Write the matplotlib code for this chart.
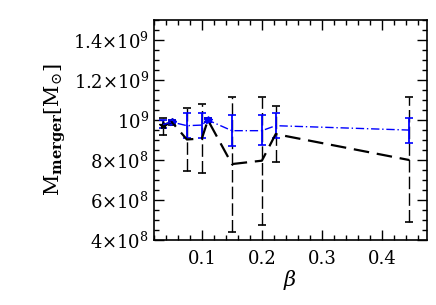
import numpy as np
import matplotlib
matplotlib.use('Agg')
import matplotlib.pyplot as plt
from matplotlib.ticker import FixedLocator, FixedFormatter, MultipleLocator

# beta values
beta = [0.035, 0.05, 0.075, 0.1, 0.11, 0.15, 0.2, 0.223, 0.446]

# black series (dashed)
m_black = [9.75e8, 9.9e8, 9.03e8, 9.08e8, 1.0e9, 7.8e8, 7.97e8, 9.3e8, 8.0e8]
lo_black = [9.25e8, 9.75e8, 7.45e8, 7.33e8, 9.9e8, 4.4e8, 4.75e8, 7.9e8, 4.88e8]
hi_black = [1.01e9, 1.0e9, 1.058e9, 1.078e9, 1.01e9, 1.113e9, 1.113e9, 1.07e9, 1.113e9]

# blue series (dash-dot)
m_blue = [9.78e8, 9.9e8, 9.72e8, 9.75e8, 1.0e9, 9.47e8, 9.47e8, 9.72e8, 9.5e8]
lo_blue = [9.6e8, 9.78e8, 9.08e8, 9.08e8, 9.9e8, 8.7e8, 8.75e8, 9.08e8, 8.87e8]
hi_blue = [1.0e9, 1.0e9, 1.037e9, 1.037e9, 1.01e9, 1.025e9, 1.025e9, 1.037e9, 1.012e9]

yticks = [4e8, 6e8, 8e8, 1e9, 1.2e9, 1.4e9]
ylabels = [r'$4{\times}10^8$', r'$6{\times}10^8$', r'$8{\times}10^8$',
           r'$10^9$', r'$1.2{\times}10^9$', r'$1.4{\times}10^9$']

plt.rcParams['font.family'] = 'DejaVu Serif'
plt.rcParams['mathtext.fontset'] = 'dejavuserif'

fig = plt.figure(figsize=(4.36, 3.05), dpi=100)
ax = fig.add_axes([0.353, 0.213, 0.626, 0.721])

m = np.array(m_black)
eb = ax.errorbar(beta, m, yerr=[m - np.array(lo_black), np.array(hi_black) - m],
                 color='black', ls=(0, (7, 3.5)), lw=1.6, elinewidth=1.0,
                 capsize=3, capthick=1.2)
eb[2][0].set_linestyle((0, (9, 3)))

m = np.array(m_blue)
eb2 = ax.errorbar(beta, m, yerr=[m - np.array(lo_blue), np.array(hi_blue) - m],
                  color='blue', ls=(0, (6, 2, 1, 2)), lw=1.0, elinewidth=1.3,
                  capsize=3, capthick=1.2)

# little star markers at the crowded low-beta points
ax.plot(beta[:2], m_black[:2], '*', color='black', ms=6)
ax.plot([beta[1], beta[4]], [m_blue[1], m_blue[4]], '*', color='blue', ms=6)

ax.set_xlim(0.02, 0.475)
ax.set_ylim(4e8, 1.5e9)
ax.xaxis.set_major_locator(FixedLocator([0.1, 0.2, 0.3, 0.4]))
ax.xaxis.set_major_formatter(FixedFormatter(['0.1', '0.2', '0.3', '0.4']))
ax.xaxis.set_minor_locator(MultipleLocator(0.02))
ax.yaxis.set_major_locator(FixedLocator(yticks))
ax.yaxis.set_major_formatter(FixedFormatter(ylabels))
ax.yaxis.set_minor_locator(MultipleLocator(5e7))
ax.tick_params(which='both', direction='in', top=True, right=True, labelsize=13)
ax.tick_params(which='major', length=7, width=1)
ax.tick_params(which='minor', length=3.5, width=1)
ax.tick_params(axis='x', pad=7)
for s in ax.spines.values():
    s.set_linewidth(1.2)

ax.set_xlabel(r'$\beta$', fontsize=15, labelpad=0)
ax.set_ylabel(r'$\mathrm{M}_{\mathbf{merger}}[\mathrm{M}_{\odot}]$', fontsize=15, labelpad=4)

fig.savefig('out.png', dpi=100)
